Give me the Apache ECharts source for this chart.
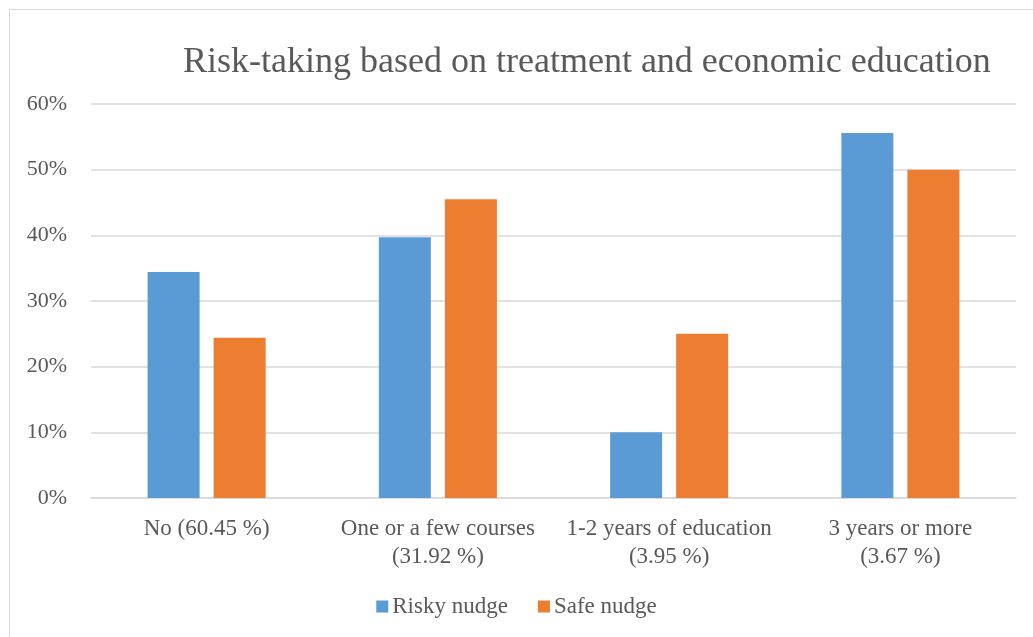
<!DOCTYPE html>
<html>
<head>
<meta charset="utf-8">
<script src="https://cdn.jsdelivr.net/npm/echarts@6/dist/echarts.min.js"></script>
<style>
  html, body { margin: 0; padding: 0; background: #fff; }
  #frame { position: absolute; left: 9px; top: 9px; width: 1040px; height: 640px; border: 1px solid #d9d9d9; }
  #chart { width: 1033px; height: 637px; position: absolute; left: 0; top: 0; }
</style>
</head>
<body>
<div id="frame"></div>
<div id="chart"></div>
<script>
// categories and series values (percent)
const categories = [
  "No (60.45 %)",
  "One or a few courses\n(31.92 %)",
  "1-2 years of education\n(3.95 %)",
  "3 years or more\n(3.67 %)",
];
const riskyNudge = [34.4, 39.7, 10.0, 55.6];
const safeNudge = [24.4, 45.5, 25.0, 50.0];
const legendNames = ["Risky nudge", "Safe nudge"];

const textColor = "#595959";
const font = "'Liberation Serif', 'Times New Roman', serif";

const myChart = echarts.init(document.getElementById("chart"));
const option = {
  animation: false,
  textStyle: { fontFamily: font },
  title: {
    text: "Risk-taking based on treatment and economic education",
    left: 178,
    top: 40,
    textStyle: {
      fontFamily: font,
      fontSize: 36,
      fontWeight: "normal",
      color: textColor,
    },
  },
  legend: {
    data: legendNames,
    bottom: 14,
    left: "center",
    itemWidth: 12,
    itemHeight: 12,
    itemGap: 30,
    icon: "rect",
    textStyle: { fontFamily: font, fontSize: 23, color: textColor, padding: [0, 0, 0, -1] },
  },
  grid: {
    left: 91,
    right: 17,
    top: 104,
    bottom: 139,
    containLabel: false,
  },
  xAxis: {
    type: "category",
    data: categories,
    axisTick: { show: false },
    axisLine: { lineStyle: { color: "#d9d9d9", width: 1.5 } },
    axisLabel: {
      fontFamily: font,
      fontSize: 23,
      color: textColor,
      lineHeight: 28,
      margin: 17,
      interval: 0,
    },
  },
  yAxis: {
    type: "value",
    min: 0,
    max: 60,
    interval: 10,
    axisLine: { show: false },
    axisTick: { show: false },
    splitLine: { lineStyle: { color: "#d9d9d9", width: 1.5 } },
    axisLabel: {
      fontFamily: font,
      fontSize: 22,
      color: textColor,
      margin: 24,
      formatter: "{value}%",
    },
  },
  series: [
    {
      name: legendNames[0],
      type: "bar",
      data: riskyNudge,
      barWidth: 52,
      barGap: "27%",
      itemStyle: { color: "#5b9bd5" },
    },
    {
      name: legendNames[1],
      type: "bar",
      data: safeNudge,
      barWidth: 52,
      itemStyle: { color: "#ed7d31" },
    },
  ],
};

myChart.setOption(option);
</script>
</body>
</html>
